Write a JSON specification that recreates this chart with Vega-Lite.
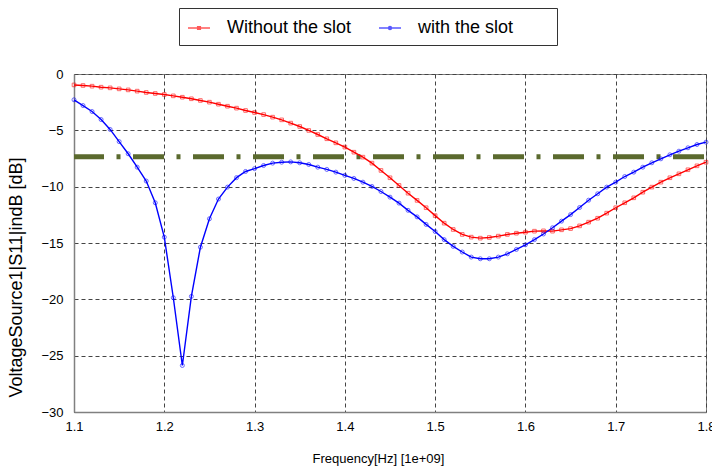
{
  "$schema": "https://vega.github.io/schema/vega-lite/v6.json",
  "width": 632,
  "height": 338,
  "autosize": {"type": "none"},
  "padding": {"left": 74, "top": 74, "right": 6, "bottom": 55},
  "background": "white",
  "config": {
    "view": {"stroke": "#808080", "strokeWidth": 1},
    "font": "Liberation Sans"
  },
  "datasets": {
    "thr": [{"level": -7.35}],
    "s11": [
      {"f": 1.10, "Without the slot": -0.97, "with the slot": -2.29},
      {"f": 1.11, "Without the slot": -1.02, "with the slot": -2.80},
      {"f": 1.12, "Without the slot": -1.08, "with the slot": -3.33},
      {"f": 1.13, "Without the slot": -1.17, "with the slot": -4.04},
      {"f": 1.14, "Without the slot": -1.23, "with the slot": -4.92},
      {"f": 1.15, "Without the slot": -1.32, "with the slot": -6.00},
      {"f": 1.16, "Without the slot": -1.41, "with the slot": -7.08},
      {"f": 1.17, "Without the slot": -1.52, "with the slot": -8.27},
      {"f": 1.18, "Without the slot": -1.64, "with the slot": -9.50},
      {"f": 1.19, "Without the slot": -1.73, "with the slot": -11.43},
      {"f": 1.20, "Without the slot": -1.82, "with the slot": -14.48},
      {"f": 1.21, "Without the slot": -1.94, "with the slot": -19.86},
      {"f": 1.22, "Without the slot": -2.06, "with the slot": -25.87},
      {"f": 1.23, "Without the slot": -2.20, "with the slot": -19.74},
      {"f": 1.24, "Without the slot": -2.35, "with the slot": -15.37},
      {"f": 1.25, "Without the slot": -2.50, "with the slot": -12.85},
      {"f": 1.26, "Without the slot": -2.68, "with the slot": -11.10},
      {"f": 1.27, "Without the slot": -2.86, "with the slot": -10.04},
      {"f": 1.28, "Without the slot": -3.03, "with the slot": -9.20},
      {"f": 1.29, "Without the slot": -3.24, "with the slot": -8.65},
      {"f": 1.30, "Without the slot": -3.42, "with the slot": -8.40},
      {"f": 1.31, "Without the slot": -3.60, "with the slot": -8.12},
      {"f": 1.32, "Without the slot": -3.83, "with the slot": -7.91},
      {"f": 1.33, "Without the slot": -4.07, "with the slot": -7.83},
      {"f": 1.34, "Without the slot": -4.36, "with the slot": -7.80},
      {"f": 1.35, "Without the slot": -4.66, "with the slot": -7.88},
      {"f": 1.36, "Without the slot": -5.01, "with the slot": -8.03},
      {"f": 1.37, "Without the slot": -5.37, "with the slot": -8.27},
      {"f": 1.38, "Without the slot": -5.75, "with the slot": -8.47},
      {"f": 1.39, "Without the slot": -6.11, "with the slot": -8.71},
      {"f": 1.40, "Without the slot": -6.49, "with the slot": -9.00},
      {"f": 1.41, "Without the slot": -6.94, "with the slot": -9.27},
      {"f": 1.42, "Without the slot": -7.38, "with the slot": -9.60},
      {"f": 1.43, "Without the slot": -7.91, "with the slot": -9.98},
      {"f": 1.44, "Without the slot": -8.56, "with the slot": -10.43},
      {"f": 1.45, "Without the slot": -9.21, "with the slot": -10.93},
      {"f": 1.46, "Without the slot": -9.89, "with the slot": -11.46},
      {"f": 1.47, "Without the slot": -10.58, "with the slot": -12.10},
      {"f": 1.48, "Without the slot": -11.22, "with the slot": -12.68},
      {"f": 1.49, "Without the slot": -11.87, "with the slot": -13.35},
      {"f": 1.50, "Without the slot": -12.57, "with the slot": -13.98},
      {"f": 1.51, "Without the slot": -13.24, "with the slot": -14.70},
      {"f": 1.52, "Without the slot": -13.80, "with the slot": -15.30},
      {"f": 1.53, "Without the slot": -14.24, "with the slot": -15.80},
      {"f": 1.54, "Without the slot": -14.48, "with the slot": -16.25},
      {"f": 1.55, "Without the slot": -14.57, "with the slot": -16.40},
      {"f": 1.56, "Without the slot": -14.51, "with the slot": -16.40},
      {"f": 1.57, "Without the slot": -14.39, "with the slot": -16.25},
      {"f": 1.58, "Without the slot": -14.24, "with the slot": -15.96},
      {"f": 1.59, "Without the slot": -14.13, "with the slot": -15.57},
      {"f": 1.60, "Without the slot": -14.04, "with the slot": -15.16},
      {"f": 1.61, "Without the slot": -13.95, "with the slot": -14.70},
      {"f": 1.62, "Without the slot": -13.92, "with the slot": -14.20},
      {"f": 1.63, "Without the slot": -13.95, "with the slot": -13.65},
      {"f": 1.64, "Without the slot": -13.83, "with the slot": -13.06},
      {"f": 1.65, "Without the slot": -13.72, "with the slot": -12.48},
      {"f": 1.66, "Without the slot": -13.48, "with the slot": -11.85},
      {"f": 1.67, "Without the slot": -13.15, "with the slot": -11.20},
      {"f": 1.68, "Without the slot": -12.80, "with the slot": -10.63},
      {"f": 1.69, "Without the slot": -12.35, "with the slot": -10.04},
      {"f": 1.70, "Without the slot": -11.87, "with the slot": -9.60},
      {"f": 1.71, "Without the slot": -11.43, "with the slot": -9.10},
      {"f": 1.72, "Without the slot": -10.99, "with the slot": -8.71},
      {"f": 1.73, "Without the slot": -10.49, "with the slot": -8.27},
      {"f": 1.74, "Without the slot": -10.04, "with the slot": -7.88},
      {"f": 1.75, "Without the slot": -9.60, "with the slot": -7.53},
      {"f": 1.76, "Without the slot": -9.21, "with the slot": -7.17},
      {"f": 1.77, "Without the slot": -8.86, "with the slot": -6.85},
      {"f": 1.78, "Without the slot": -8.50, "with the slot": -6.55},
      {"f": 1.79, "Without the slot": -8.15, "with the slot": -6.26},
      {"f": 1.80, "Without the slot": -7.83, "with the slot": -6.05}
    ]
  },
  "layer": [
    {
      "data": {"name": "thr"},
      "mark": {"type": "rule", "color": "#5b6a2e", "strokeWidth": 5, "strokeDash": [31, 12.5, 4, 12.5], "strokeDashOffset": 58, "strokeCap": "butt"},
      "encoding": {
        "y": {"field": "level", "type": "quantitative", "scale": {"domain": [-30, 0], "nice": false}}
      }
    },
    {
      "data": {"name": "s11"},
      "transform": [{"fold": ["Without the slot", "with the slot"], "as": ["series", "db"]}],
      "mark": {"type": "line", "strokeWidth": 1.4},
      "encoding": {
        "x": {
          "field": "f", "type": "quantitative",
          "scale": {"domain": [1.1, 1.8], "nice": false, "zero": false},
          "axis": {
            "values": [1.1, 1.2, 1.3, 1.4, 1.5, 1.6, 1.7, 1.8],
            "format": ".1f",
            "title": "Frequency[Hz] [1e+09]",
            "grid": true, "gridDash": [4, 3], "gridColor": "#444444", "gridOpacity": 1, "gridWidth": 1,
            "ticks": false, "labelPadding": 8, "labelFlush": false,
            "domainColor": "#808080", "domainWidth": 1.5,
            "labelFontSize": 13, "labelColor": "black", "labelFont": "Liberation Sans",
            "titleFontSize": 13, "titleFontWeight": "normal", "titleColor": "black", "titleFont": "Liberation Sans",
            "titleX": 304, "titleY": 46, "titleBaseline": "middle", "titleAlign": "center"
          }
        },
        "y": {
          "field": "db", "type": "quantitative",
          "scale": {"domain": [-30, 0], "nice": false},
          "axis": {
            "values": [-30, -25, -20, -15, -10, -5, 0],
            "title": "VoltageSource1|S11|indB [dB]",
            "grid": true, "gridDash": [4, 3], "gridColor": "#444444", "gridOpacity": 1, "gridWidth": 1,
            "ticks": false, "labelPadding": 11, "labelFlush": false,
            "domainColor": "#808080", "domainWidth": 1.5,
            "labelFontSize": 13, "labelColor": "black", "labelFont": "Liberation Sans",
            "titleFontSize": 18, "titleFontWeight": "normal", "titleColor": "black", "titleFont": "Liberation Sans",
            "titleX": -49, "titleY": 203, "titleBaseline": "bottom", "titleAlign": "center", "titleAngle": -90
          }
        },
        "color": {
          "field": "series", "type": "nominal",
          "scale": {"domain": ["Without the slot", "with the slot"], "range": ["#ff0000", "#0000ff"]}
        },
        "detail": {"field": "series"}
      }
    },
    {
      "data": {"name": "s11"},
      "transform": [{"fold": ["Without the slot"], "as": ["series", "db"]}],
      "mark": {"type": "point", "shape": "square", "filled": false, "size": 13, "strokeWidth": 0.9, "opacity": 0.65},
      "encoding": {
        "x": {"field": "f", "type": "quantitative"},
        "y": {"field": "db", "type": "quantitative"},
        "color": {"field": "series", "type": "nominal"}
      }
    },
    {
      "data": {"name": "s11"},
      "transform": [{"fold": ["with the slot"], "as": ["series", "db"]}],
      "mark": {"type": "point", "shape": "circle", "filled": false, "size": 16, "strokeWidth": 0.9, "opacity": 0.65},
      "encoding": {
        "x": {"field": "f", "type": "quantitative"},
        "y": {"field": "db", "type": "quantitative"},
        "color": {"field": "series", "type": "nominal"}
      }
    },
    {
      "data": {"name": "s11"},
      "transform": [{"fold": ["Without the slot", "with the slot"], "as": ["series", "db"]}],
      "mark": {"type": "point", "filled": false, "opacity": 0},
      "encoding": {
        "x": {"field": "f", "type": "quantitative"},
        "y": {"field": "db", "type": "quantitative"},
        "color": {
          "field": "series", "type": "nominal",
          "legend": {
            "orient": "none", "legendX": 105, "legendY": -66, "direction": "horizontal",
            "title": ".", "titleOrient": "right", "titleColor": "white", "titleFontSize": 10, "titlePadding": 33,
            "strokeColor": "#333333", "fillColor": "white", "padding": 8,
            "labelFontSize": 18, "labelFont": "Liberation Sans", "labelColor": "black",
            "symbolSize": 484, "symbolStrokeWidth": 1.5, "symbolOpacity": 1,
            "labelOffset": 16, "columnPadding": 24
          }
        },
        "shape": {
          "field": "series", "type": "nominal",
          "scale": {
            "domain": ["Without the slot", "with the slot"],
            "range": ["M-1,0H1M-0.12,-0.12H0.12V0.12H-0.12Z", "M-1,0H1M-0.13,0A0.13,0.13,0,1,1,0.13,0A0.13,0.13,0,1,1,-0.13,0"]
          },
          "legend": {
            "orient": "none", "legendX": 105, "legendY": -66, "direction": "horizontal",
            "title": ".", "titleOrient": "right", "titleColor": "white", "titleFontSize": 10, "titlePadding": 33,
            "strokeColor": "#333333", "fillColor": "white", "padding": 8,
            "labelFontSize": 18, "labelFont": "Liberation Sans", "labelColor": "black",
            "symbolSize": 484, "symbolStrokeWidth": 1.5, "symbolOpacity": 1,
            "labelOffset": 16, "columnPadding": 24
          }
        }
      }
    }
  ]
}
